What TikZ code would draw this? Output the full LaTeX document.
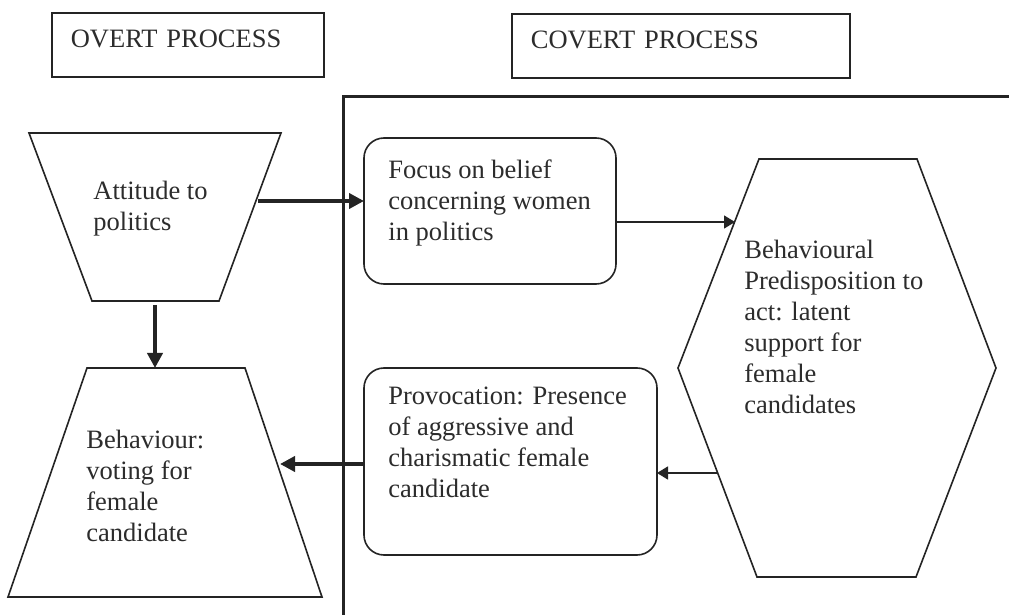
\documentclass[tikz,border=0pt]{standalone}
\usepackage{fontspec}
\setmainfont{Liberation Serif}
\usetikzlibrary{arrows.meta}
\definecolor{ink}{HTML}{242424}
\definecolor{txt}{HTML}{2C2C2C}
\tikzset{
  headbox/.style={draw=ink, line width=0.85pt, anchor=north west, inner xsep=9.5pt, inner ysep=0pt,
    text width=117pt, text height=17.5pt, text depth=14.5pt, align=left, text=txt,
    font=\fontsize{13.25pt}{15.5pt}\selectfont},
  shapeline/.style={draw=ink, line width=0.8pt, line join=miter},
  roundbox/.style={draw=ink, line width=0.8pt, rounded corners=10pt, anchor=north west,
    inner sep=0pt, outer sep=0pt},
  blocktext/.style={anchor=north west, inner sep=0pt, align=left, text=txt,
    font=\fontsize{13.25pt}{15.5pt}\selectfont},
  heavyarrow/.style={draw=ink, line width=2pt, -{Triangle[length=7.5pt,width=7.5pt]}},
  lightarrow/.style={draw=ink, line width=0.75pt, -{Triangle[length=5.5pt,width=6.5pt]}},
}
\begin{document}
\begin{tikzpicture}[x=0.5pt,y=-0.5pt]
\useasboundingbox[fill=white] (0,0) rectangle (1009,615);

% headings
\node[headbox] (overt) at (51,12) {OVERT PROCESS};
\node[headbox, text width=150pt] (covert) at (511,13) {COVERT PROCESS};

% frame enclosing the covert part
\draw[ink, line width=1.5pt] (343,615) -- (343,97) -- (1009,97);

% overt shapes
\coordinate (a1) at (29,133);  \coordinate (a2) at (281,133);
\coordinate (a3) at (219,301); \coordinate (a4) at (92,301);
\draw[shapeline] (a1) -- (a2) -- (a3) -- (a4) -- cycle;
\node[blocktext] (att) at (93,181) {Attitude to\\politics};

\coordinate (b1) at (87,368);  \coordinate (b2) at (245,368);
\coordinate (b3) at (322,597); \coordinate (b4) at (8,597);
\draw[shapeline] (b1) -- (b2) -- (b3) -- (b4) -- cycle;
\node[blocktext] (beh) at (86,430) {Behaviour:\\voting for\\female\\candidate};

% covert shapes
\node[roundbox, minimum width=126pt, minimum height=73pt] (focus) at (364,138) {};
\node[blocktext] (focustext) at (388,159) {Focus on belief\\concerning women\\in politics};

\coordinate (h1) at (759,159); \coordinate (h2) at (917,159);
\coordinate (h3) at (996,368); \coordinate (h4) at (916,577);
\coordinate (h5) at (757,577); \coordinate (h6) at (678,368);
\draw[shapeline] (h1) -- (h2) -- (h3) -- (h4) -- (h5) -- (h6) -- cycle;
\node[blocktext] (pred) at (744,240) {Behavioural\\Predisposition to\\act: latent\\support for\\female\\candidates};

\node[roundbox, minimum width=146.5pt, minimum height=93.5pt] (prov) at (364,368) {};
\node[blocktext] (provtext) at (388,387) {Provocation: Presence\\of aggressive and\\charismatic female\\candidate};

% connectors
\coordinate (attE) at (258,201);
\coordinate (attS) at (155,305);
\coordinate (hexIn) at (735,222);
\coordinate (hexOut) at (718,473);
\coordinate (behE) at (280,464);

\draw[heavyarrow] (attE) -- (attE -| focus.west);
\draw[heavyarrow] (attS) -- (attS |- b1);
\draw[lightarrow] ([yshift=-5.5pt]focus.east) -- (hexIn);
\draw[lightarrow] (hexOut) -- (hexOut -| prov.east);
\draw[heavyarrow] (behE -| prov.west) -- (behE);
\end{tikzpicture}
\end{document}
